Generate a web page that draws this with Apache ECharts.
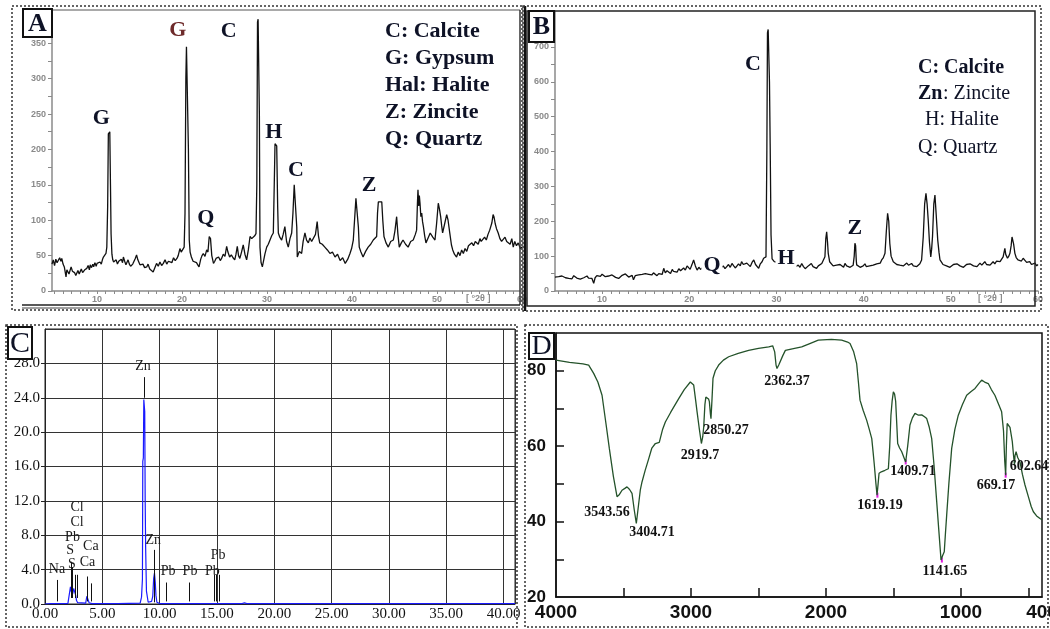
<!DOCTYPE html>
<html>
<head>
<meta charset="utf-8">
<script src="https://cdn.jsdelivr.net/npm/echarts@6/dist/echarts.min.js"></script>
<style>
  html, body { margin: 0; padding: 0; background: #fff; }
  #main { width: 1050px; height: 629px; }
</style>
</head>
<body>
<div id="main"></div>
<script>
// ---- A: XRD pattern 1 (2theta, counts)
var xrdA = [
  [4.7,38],[4.85,44],[5.0,36],[5.15,45],[5.3,40],[5.45,39],[5.6,47],[5.75,42],[5.85,46],[6.0,38],[6.15,34],[6.25,36],[6.35,20],[6.45,30],[6.6,32],[6.7,24],[6.8,25],[6.95,34],[7.1,28],[7.2,30],[7.35,26],[7.5,22],[7.6,23],[7.75,29],[7.9,24],[8.0,27],[8.15,31],[8.3,26],[8.4,25],[8.55,30],[8.7,28],[8.8,32],[8.95,36],[9.1,30],[9.2,37],[9.35,33],[9.5,38],[9.6,34],[9.75,40],[9.9,35],[10.0,39],[10.15,37],[10.35,41],[10.5,38],[10.65,45],[10.75,48],[10.9,46],[11.05,53],[11.15,62],[11.25,120],[11.33,222],[11.42,224],[11.5,225],[11.58,150],[11.65,81],[11.75,52],[11.85,44],[11.95,41],
  [12.1,39],[12.25,44],[12.4,38],[12.55,42],[12.7,41],[12.85,45],[13.0,40],[13.1,48],[13.25,42],[13.4,37],[13.5,39],[13.65,44],[13.8,38],[13.95,35],[14.05,34],[14.2,38],[14.35,42],[14.5,46],[14.65,51],[14.8,44],[14.95,40],[15.05,37],[15.2,35],[15.4,38],[15.6,33],[15.85,34],[16.0,38],[16.2,31],[16.4,29],[16.6,27],[16.8,33],[17.0,39],[17.2,35],[17.4,41],[17.6,36],[17.8,39],[18.0,44],[18.2,38],[18.4,42],[18.6,44],[18.8,40],[19.0,47],[19.2,43],[19.4,46],[19.55,50],[19.75,60],[19.9,55],[20.1,53],[20.25,62],[20.35,110],[20.45,300],[20.52,345],[20.6,347],[20.67,344],[20.75,200],[20.85,72],[20.95,55],
  [21.1,48],[21.3,42],[21.5,44],[21.7,40],[21.85,37],[22.0,34],[22.2,45],[22.35,50],[22.5,53],[22.7,49],[22.9,58],[23.05,55],[23.2,77],[23.35,74],[23.5,50],[23.7,39],[23.85,42],[24.0,46],[24.1,44],[24.3,48],[24.5,43],[24.65,46],[24.85,52],[25.05,49],[25.25,63],[25.4,55],[25.6,48],[25.8,51],[26.0,47],[26.2,44],[26.35,52],[26.5,63],[26.65,50],[26.8,46],[27.0,55],[27.2,65],[27.4,52],[27.6,44],[27.8,58],[28.0,77],[28.2,74],[28.4,72],[28.55,78],[28.7,81],[28.8,150],[28.88,380],[28.95,384],[29.02,383],[29.1,250],[29.17,62],[29.3,40],[29.45,34],[29.56,36],[29.75,52],[29.96,62],
  [30.15,66],[30.35,72],[30.55,78],[30.74,82],[30.85,150],[30.94,208],[31.05,206],[31.14,205],[31.25,120],[31.33,82],[31.5,76],[31.72,72],[31.9,80],[32.1,91],[32.3,70],[32.5,62],[32.7,74],[32.9,82],[33.05,110],[33.2,150],[33.3,149],[33.4,148],[33.5,90],[33.56,48],[33.8,56],[34.07,53],[34.25,70],[34.46,82],[34.65,72],[34.86,68],[35.05,75],[35.25,70],[35.45,72],[35.7,80],[35.9,98],[36.05,78],[36.2,68],[36.5,66],[36.8,62],[37.1,58],[37.4,53],[37.7,55],[38.0,48],[38.3,52],[38.6,43],[38.9,47],[39.2,39],[39.5,45],[39.76,53],[39.95,60],
  [40.15,72],[40.35,110],[40.46,131],[40.56,130],[40.66,129],[40.75,90],[40.85,62],[41.05,55],[41.3,48],[41.6,56],[41.9,62],[42.2,66],[42.5,72],[42.7,70],[42.9,77],[43.0,110],[43.1,126],[43.3,125],[43.5,126],[43.62,100],[43.76,77],[44.0,68],[44.27,62],[44.55,70],[44.86,72],[45.05,85],[45.25,105],[45.4,80],[45.56,62],[45.8,68],[46.0,72],[46.3,66],[46.6,62],[46.9,70],[47.2,72],[47.45,80],[47.6,86],[47.7,125],[47.76,143],[47.85,120],[47.92,135],[48.0,124],[48.1,105],[48.2,110],[48.3,98],[48.4,91],[48.55,78],[48.7,68],[48.95,75],[49.2,82],[49.5,76],[49.76,72],[49.95,95],
  [50.15,124],[50.3,115],[50.43,105],[50.55,92],[50.66,82],[50.9,95],[51.14,108],[51.3,100],[51.5,82],[51.7,65],[51.85,58],[52.05,52],[52.3,48],[52.5,55],[52.7,50],[52.9,58],[53.1,53],[53.3,60],[53.5,56],[53.7,64],[53.9,62],[54.1,68],[54.3,64],[54.5,70],[54.66,72],[54.85,66],[55.05,74],[55.2,70],[55.4,68],[55.6,76],[55.8,72],[56.0,80],[56.2,86],[56.45,96],[56.6,108],[56.7,105],[56.85,95],[57.0,88],[57.2,82],[57.4,74],[57.6,70],[57.8,68],[58.0,76],[58.2,70],[58.4,72],[58.6,66],[58.8,74],[58.97,62],[59.15,70],[59.35,64],[59.56,68],[59.8,60],[60.0,62]
];
var peaksA = [
  ['G', 10.5, 244], ['G', 19.5, 368], ['C', 25.5, 367], ['Q', 22.8, 103],
  ['H', 30.8, 224], ['C', 33.4, 171], ['Z', 42.0, 150]
];
var legendA = ['C: Calcite', 'G: Gypsum', 'Hal: Halite', 'Z: Zincite', 'Q: Quartz'];
var labelsAX = [10, 20, 30, 40, 50, 60];
var labelsAY = [0, 50, 100, 150, 200, 250, 300, 350];

// ---- B: XRD pattern 2 (2theta, counts)
var xrdB = [
  [4.6,40],[4.8,44],[5.02,41],[5.2,36],[5.4,43],[5.6,46],[5.8,38],[6.0,42],[6.17,36],[6.35,40],[6.55,35],[6.75,44],[6.93,41],[7.1,37],[7.3,39],[7.5,34],[7.7,32],[7.9,38],[8.1,41],[8.27,43],[8.45,37],[8.65,40],[8.84,36],[9.04,22],[9.2,38],[9.4,44],[9.61,46],[9.8,42],[10.0,48],[10.2,44],[10.37,41],[10.55,46],[10.75,43],[10.95,40],[11.14,46],[11.35,42],[11.55,39],[11.75,44],[11.9,36],[12.1,41],[12.3,45],[12.5,42],[12.67,49],[12.85,44],[13.05,40],[13.25,38],[13.45,45],[13.6,32],[13.8,44],[14.0,39],[14.2,46],[14.4,42],[14.6,48],[14.8,44],[14.96,50],
  [15.15,45],[15.35,48],[15.55,43],[15.7,46],[15.9,52],[16.1,47],[16.3,44],[16.5,50],[16.7,55],[16.9,48],[17.07,65],[17.25,52],[17.45,58],[17.64,55],[17.85,50],[18.05,62],[18.2,56],[18.4,60],[18.6,54],[18.8,64],[19.0,58],[19.16,55],[19.35,66],[19.55,60],[19.75,72],[19.93,70],[20.1,62],[20.3,75],[20.5,89],[20.7,72],[20.9,60],[21.1,68],[21.3,62],[21.46,65],[21.7,70],[21.9,64],[22.1,72],[22.4,66],[22.7,70],[23.0,68],[23.3,74],[23.6,66],[23.9,72],[24.1,64],[24.3,70],[24.5,76],[24.7,68],[24.9,79],
  [25.1,72],[25.3,66],[25.47,70],[25.65,78],[25.85,72],[26.0,84],[26.2,76],[26.4,72],[26.6,80],[26.8,75],[27.0,70],[27.2,82],[27.4,89],[27.6,76],[27.8,72],[27.96,65],[28.15,78],[28.35,84],[28.53,94],[28.7,92],[28.8,98],[28.9,400],[28.97,740],[29.05,750],[29.13,748],[29.2,600],[29.28,420],[29.38,160],[29.5,92],[29.6,89],[29.75,84],[29.87,79],[30.1,82],[30.4,76],[30.7,80],[31.0,74],[31.3,78],[31.6,72],[31.9,76],[32.2,70],[32.5,74],[32.7,68],[32.9,79],
  [33.1,70],[33.3,64],[33.46,60],[33.65,72],[33.85,76],[34.0,79],[34.2,70],[34.4,74],[34.6,65],[34.8,72],[35.0,76],[35.2,79],[35.4,84],[35.56,98],[35.66,150],[35.76,170],[35.86,140],[35.94,108],[36.1,84],[36.3,79],[36.5,72],[36.7,68],[36.9,74],[37.09,70],[37.3,76],[37.5,72],[37.7,68],[37.86,79],[38.05,72],[38.25,76],[38.45,68],[38.62,70],[38.8,74],[38.92,100],[39.0,137],[39.08,130],[39.15,90],[39.2,75],[39.4,70],[39.6,68],[39.77,65],[39.95,72],
  [40.15,78],[40.3,70],[40.5,75],[40.7,72],[40.9,68],[41.1,74],[41.3,70],[41.5,78],[41.7,82],[41.9,80],[42.07,89],[42.25,95],[42.45,108],[42.6,170],[42.75,223],[42.88,200],[43.0,137],[43.15,100],[43.4,84],[43.6,80],[43.8,76],[43.97,79],[44.15,74],[44.35,78],[44.55,72],[44.74,75],[44.95,80],[45.15,74],[45.35,78],[45.5,79],[45.7,72],[45.9,76],[46.1,70],[46.26,70],[46.45,78],[46.65,89],[46.84,156],[47.0,250],[47.15,280],[47.28,250],[47.41,203],[47.55,140],[47.7,98],[47.8,120],[47.9,156],[48.05,250],[48.18,275],[48.32,220],[48.5,146],[48.65,110],[48.76,89],[48.95,82],[49.1,76],[49.3,79],[49.5,72],[49.7,76],[49.9,68],
  [50.1,70],[50.3,76],[50.5,72],[50.7,78],[50.85,79],[51.05,72],[51.25,76],[51.45,68],[51.6,70],[51.8,76],[52.0,72],[52.2,78],[52.4,79],[52.6,72],[52.8,76],[53.0,70],[53.15,75],[53.35,80],[53.55,74],[53.75,78],[53.9,84],[54.1,76],[54.3,80],[54.5,74],[54.68,79],[54.85,84],[55.05,78],[55.25,86],[55.44,89],[55.65,84],[55.85,92],[56.0,98],[56.1,110],[56.2,122],[56.3,105],[56.5,94],[56.65,100],[56.78,108],[56.92,130],[57.02,155],[57.1,160],[57.2,135],[57.35,108],[57.5,96],[57.7,89],[57.9,92],[58.1,86],[58.3,94],[58.5,88],[58.7,82],[58.88,79],[59.05,84],[59.25,76],[59.45,75],[59.65,80],[59.85,72],[60.0,76]
];
var peaksB = [['C', 27.3, 651], ['Q', 22.6, 75], ['H', 31.1, 95], ['Z', 39.0, 181]];
var labelsBY = [0, 100, 200, 300, 400, 500, 600, 700];

// ---- C: EDS spectrum (keV, counts)
var edsC = [
  [0,0],[0.5,0.05],[0.9,0.05],[1.0,0.2],[1.05,0.15],[1.15,0.05],[2.0,0.08],[2.15,0.3],[2.22,2.0],[2.26,2.2],[2.3,1.4],[2.34,2.9],[2.38,2.0],[2.42,1.2],[2.5,1.8],[2.56,1.6],[2.62,1.8],[2.68,1.0],[2.75,0.4],[2.85,0.15],[3.0,0.05],
  [3.55,0.1],[3.65,0.9],[3.7,1.05],[3.76,0.7],[3.85,0.15],[4.0,0.2],[4.1,0.05],[6.35,0.05],[6.4,0.2],[6.45,0.05],
  [8.3,0.1],[8.42,0.8],[8.5,2.9],[8.53,16.6],[8.58,17.0],[8.62,23.8],[8.66,23.6],[8.7,22.4],[8.74,12],[8.78,6.5],[8.85,1.5],[9.0,0.2],
  [9.3,0.3],[9.4,0.9],[9.48,3.0],[9.55,3.6],[9.62,2.5],[9.68,1.0],[9.76,0.2],[10.0,0.05],[12,0.05],[15,0.05],[17.2,0.05],[17.4,0.15],[17.6,0.05],[41,0.05]
];
// element marker lines: energy, bottom, top
var markersC = [
  [1.04,0.3,2.8],[2.31,0.7,4.9],[2.35,0.7,4.3],[2.62,0.7,3.4],[2.82,0.7,3.4],[3.69,0.3,3.2],[4.01,0.3,2.4],
  [8.63,24.0,26.4],[9.57,0.2,6.3],[10.55,0.3,2.5],[12.61,0.3,2.5],[14.76,0.3,3.4],[14.9,0.3,3.4],[15.2,0.3,3.4]
];
var elementsC = [
  ['Zn',8.55,27.6],['Zn',9.45,7.4],['Cl',2.8,11.3],['Cl',2.8,9.5],['Pb',2.4,7.8],['S',2.2,6.3],['S',2.35,4.65],
  ['Ca',4.0,6.7],['Ca',3.7,4.9],['Na',1.05,4.0],['Pb',10.75,3.8],['Pb',12.65,3.8],['Pb',14.6,3.8],['Pb',15.1,5.7]
];

// ---- D: FTIR spectrum (wavenumber, %T)
var ftirD = [
  [4000,82.8],[3900,82.2],[3800,81.8],[3758,81.5],[3721,79.3],[3690,77],[3659,73.5],[3630,66],[3605,59.4],[3575,52],[3548,46.6],[3530,47.2],[3511,48.3],[3490,48.8],[3474,49.2],[3455,48.5],[3437,47.5],[3420,43],[3405,39.5],[3390,44],[3375,48.5],[3363,50.5],[3340,53.5],[3313,56.7],[3290,59.5],[3264,60.7],[3235,61],[3210,64.5],[3190,66.4],[3150,69],[3091,72.6],[3050,75],[3005,77],[2980,76.2],[2965,72],[2955,69.1],[2940,65],[2923,60.7],[2913,62.5],[2906,65],[2897,71],[2890,73],[2881,73.5],[2870,72.5],[2864,71.8],[2856,68.5],[2852,67.3],[2845,72],[2837,78],[2820,80],[2795,81.5],[2760,82.8],[2721,83.7],[2650,84.6],[2573,85.4],[2500,85.9],[2424,86.3],[2395,86.6],[2380,85],[2370,81.5],[2363,80.6],[2350,81.5],[2338,82],[2320,84],[2301,85.4],[2250,85.8],[2180,86.3],[2120,87.2],[2057,88.1],[1960,88.3],[1884,88.1],[1840,87.6],[1822,87.2],[1795,85],[1773,81.9],[1760,77],[1748,72.2],[1725,69.5],[1699,66.9],[1680,64.5],[1661,62],[1650,58],[1642,55],[1630,50],[1622,47],[1614,50],[1607,52.8],[1590,53.2],[1563,53.6],[1538,54],[1528,60],[1519,68.2],[1510,72],[1501,74.4],[1492,73.8],[1484,71.9],[1476,66],[1469,60.7],[1455,59.5],[1439,58.5],[1425,57.2],[1410,55.8],[1395,60],[1378,65.6],[1360,67.5],[1341,68.7],[1315,68.2],[1291,68.3],[1270,67.8],[1254,67.3],[1235,65],[1217,62],[1200,55],[1180,45.3],[1165,38],[1148,29.8],[1136,31],[1124,32],[1115,37],[1106,41.7],[1090,50],[1069,59.4],[1045,64.5],[1020,68.2],[990,71],[958,73.5],[925,74.5],[896,75.3],[870,76.5],[847,77.5],[825,77],[798,76.6],[775,75],[749,73.5],[720,71],[699,69.1],[685,64],[676,56],[669,52.3],[664,60],[658,66],[652,66.5],[645,65.5],[637,65],[628,63],[620,61.2],[612,58],[604,55],[600,57.5],[592,58.5],[580,57],[563,55.8],[545,52.5],[526,49.7],[500,46.5],[480,44],[464,42.6],[440,41.5],[415,40.8],[400,40.5]
];
var bandsD = [
  ['3543.56',3622,42.5],['3404.71',3289,37],['2919.7',2933,57.6],['2850.27',2741,64.2],['2362.37',2289,77.2],
  ['1619.19',1600,44.4],['1409.71',1356,53.4],['1141.65',1119,26.9],['669.17',741,49.7],['602.64',496,54.7]
];
var pointsD = [[1619.19,47],[1409.71,55.8],[1141.65,29.8],[669.17,52.3]];
var labelsDX = [4000, 3000, 2000, 1000, 400];
var labelsDY = [20, 40, 60, 80];

var chart = echarts.init(document.getElementById('main'), null, { renderer: 'canvas' });

var serif = '"Liberation Serif", "DejaVu Serif", serif';
var sans = '"Liberation Sans", Arial, sans-serif';
var ink = '#0e1226';

function steps(a, b, s) {
  var out = [];
  for (var v = a; v <= b + 1e-9; v += s) out.push(+v.toFixed(3));
  return out;
}

function xrdX(idx, min) {
  return {
    gridIndex: idx, type: 'value', min: min, max: 60,
    axisLine: { lineStyle: { color: '#8a8a8a', width: 1.5 } },
    axisTick: { customValues: steps(5, 60, 1), length: 3, lineStyle: { color: '#8a8a8a' } },
    axisLabel: { customValues: labelsAX, color: '#8a8a8a', fontSize: 9, fontWeight: 'bold', fontFamily: sans, margin: 4 },
    splitLine: { show: false }
  };
}
function xrdY(idx, max, labels, tickStep) {
  return {
    gridIndex: idx, type: 'value', min: 0, max: max,
    axisLine: { show: true, lineStyle: { color: '#8a8a8a', width: 1.5 } },
    axisTick: { show: true, customValues: steps(0, max, tickStep), length: 4, lineStyle: { color: '#8a8a8a' } },
    axisLabel: { customValues: labels, color: '#8a8a8a', fontSize: 9, fontWeight: 'bold', fontFamily: sans, margin: 6 },
    splitLine: { show: false }
  };
}

function labelSeries(xi, items, font, color, extra) {
  return {
    type: 'scatter', xAxisIndex: xi, yAxisIndex: xi, symbolSize: 0, silent: true, z: 5,
    itemStyle: { opacity: 1 },
    data: items.map(function (p) {
      var d = { name: p[0], value: [p[1], p[2]] };
      if (extra && extra[p[0] + '@' + p[1]]) d.label = extra[p[0] + '@' + p[1]];
      return d;
    }),
    label: Object.assign({ show: true, position: 'inside', formatter: '{b}', color: color, opacity: 1 }, font)
  };
}

var option = {
  animation: false,
  backgroundColor: '#fff',
  grid: [
    { left: 52, top: 10, width: 470, height: 281, outerBoundsMode: 'none' },
    { left: 555, top: 11, width: 483, height: 280, outerBoundsMode: 'none' },
    { left: 45, top: 329, width: 470, height: 275, show: true, borderColor: '#222', borderWidth: 1, outerBoundsMode: 'none' },
    { left: 556, top: 333, width: 486, height: 264, show: true, borderColor: '#111', borderWidth: 1.5, outerBoundsMode: 'none' }
  ],
  xAxis: [
    xrdX(0, 4.7),
    xrdX(1, 4.6),
    {
      gridIndex: 2, type: 'value', min: 0, max: 41, interval: 5,
      axisLine: { lineStyle: { color: '#222' } },
      axisTick: { show: false },
      axisLabel: { color: '#111', fontFamily: serif, fontSize: 15, margin: 3, showMaxLabel: false,
        formatter: function (v) { return v.toFixed(2); } },
      splitLine: { show: true, lineStyle: { color: '#333', width: 1 } }
    },
    {
      gridIndex: 3, type: 'value', min: 400, max: 4000, inverse: true,
      axisLine: { lineStyle: { color: '#111', width: 1.5 } },
      axisTick: { inside: true, length: 9, customValues: [3500, 3000, 2500, 2000, 1500, 1000, 500], lineStyle: { color: '#111', width: 1.5 } },
      axisLabel: { customValues: labelsDX, color: '#111', fontFamily: sans, fontWeight: 'bold', fontSize: 19, margin: 6,
        formatter: function (v) { return String(v); } },
      splitLine: { show: false }
    }
  ],
  yAxis: [
    xrdY(0, 397, labelsAY, 25),
    xrdY(1, 803, labelsBY, 50),
    {
      gridIndex: 2, type: 'value', min: 0, max: 32, interval: 4,
      axisLine: { show: true, lineStyle: { color: '#222' } },
      axisTick: { show: true, length: 4, lineStyle: { color: '#222' } },
      axisLabel: { color: '#111', fontFamily: serif, fontSize: 15, margin: 5, showMaxLabel: false,
        formatter: function (v) { return v.toFixed(1); } },
      splitLine: { show: true, lineStyle: { color: '#333', width: 1 } }
    },
    {
      gridIndex: 3, type: 'value', min: 20, max: 90,
      axisLine: { show: true, lineStyle: { color: '#111', width: 1.5 } },
      axisTick: { show: true, inside: true, length: 8, customValues: [30, 40, 50, 60, 70, 80], lineStyle: { color: '#111', width: 1.5 } },
      axisLabel: { customValues: labelsDY, color: '#111', fontFamily: sans, fontWeight: 'bold', fontSize: 17, margin: 10,
        formatter: function (v) { return String(v); } },
      splitLine: { show: false }
    }
  ],
  series: [
    {
      type: 'line', xAxisIndex: 0, yAxisIndex: 0, data: xrdA, showSymbol: false, silent: true,
      lineStyle: { color: '#111', width: 1.3 }
    },
    labelSeries(0, peaksA, { fontFamily: serif, fontWeight: 'bold', fontSize: 22 }, ink,
      { 'G@19.5': { color: '#6e2b2b' } }),
    {
      type: 'line', xAxisIndex: 1, yAxisIndex: 1, data: xrdB, showSymbol: false, silent: true,
      lineStyle: { color: '#111', width: 1.3 }
    },
    labelSeries(1, peaksB, { fontFamily: serif, fontWeight: 'bold', fontSize: 22 }, ink,
      { 'Q@22.6': { backgroundColor: '#fff', padding: [0, 2] }, 'H@31.1': { backgroundColor: '#fff', padding: [0, 2] } }),
    {
      type: 'line', xAxisIndex: 2, yAxisIndex: 2, data: edsC, showSymbol: false, silent: true, z: 4,
      lineStyle: { color: '#1a1aff', width: 1.2 },
      markLine: {
        silent: true, symbol: 'none', animation: false,
        label: { show: false },
        lineStyle: { color: '#111', width: 1, type: 'solid', opacity: 1 },
        data: markersC.map(function (m) { return [{ coord: [m[0], m[1]] }, { coord: [m[0], m[2]] }]; })
      }
    },
    labelSeries(2, elementsC, { fontFamily: serif, fontSize: 14 }, '#1a1a1a'),
    {
      type: 'line', xAxisIndex: 3, yAxisIndex: 3, data: ftirD, showSymbol: false, silent: true,
      lineStyle: { color: '#24522a', width: 1.3 }
    },
    labelSeries(3, bandsD, { fontFamily: serif, fontWeight: 'bold', fontSize: 14 }, '#111'),
    {
      type: 'scatter', xAxisIndex: 3, yAxisIndex: 3, data: pointsD, silent: true,
      symbol: 'rect', symbolSize: [2, 5], itemStyle: { color: '#e21ee2', opacity: 1 }
    }
  ],
  graphic: []
};

var g = option.graphic;
function dotted(x, y, w, h) {
  g.push({ type: 'rect', z: 50, shape: { x: x, y: y, width: w, height: h },
    style: { fill: 'none', stroke: '#333', lineWidth: 1.5, lineDash: [2, 2] } });
}
function letterBox(x, y, w, h, ch, weight, size) {
  g.push({ type: 'rect', z: 60, shape: { x: x, y: y, width: w, height: h },
    style: { fill: '#fff', stroke: '#111', lineWidth: 2 } });
  g.push({ type: 'text', z: 61, x: x + w / 2, y: y + h / 2 + 1,
    style: { text: ch, font: weight + ' ' + size + 'px ' + serif, fill: ink, textAlign: 'center', textVerticalAlign: 'middle' } });
}
function text(x, y, t, font, fill) {
  g.push({ type: 'text', z: 55, x: x, y: y,
    style: { text: t, font: font, fill: fill || ink, textAlign: 'left', textVerticalAlign: 'middle' } });
}
function line(x1, y1, x2, y2, w, c) {
  g.push({ type: 'line', z: 40, shape: { x1: x1, y1: y1, x2: x2, y2: y2 }, style: { stroke: c || '#222', lineWidth: w } });
}

// panel borders
dotted(12, 6, 510, 304);
dotted(523, 6, 518, 305);
dotted(6, 325, 511, 302);
dotted(525, 325, 523, 302);

// inner frames of the XRD panels
line(22, 10, 520, 10, 1, '#555');
line(520, 10, 520, 305, 1.5, '#333');
line(22, 305, 520, 305, 1.5, '#222');
line(22, 308, 520, 308, 1, '#444');
g.push({ type: 'rect', z: 40, shape: { x: 527, y: 11, width: 508, height: 295 },
  style: { fill: 'none', stroke: '#222', lineWidth: 1.5 } });
line(525, 6, 525, 311, 2.5, '#111');

// axis unit tags
text(466, 299, '[ °2θ ]', 'bold 9px ' + sans, '#8a8a8a');
text(978, 299, '[ °2θ ]', 'bold 9px ' + sans, '#8a8a8a');

// legends
var bold22 = 'bold 22px ' + serif;
legendA.forEach(function (s, i) { text(385, 31 + i * 27, s, bold22); });
text(918, 68, 'C: Calcite', 'bold 20px ' + serif);
text(918, 94, 'Zn', 'bold 20px ' + serif);
text(943, 94, ': Zincite', '20px ' + serif);
text(925, 120, 'H: Halite', '20px ' + serif);
text(918, 148, 'Q: Quartz', '20px ' + serif);

// panel letters
letterBox(23, 9, 29, 28, 'A', 'bold', 26);
letterBox(529, 11, 25, 31, 'B', 'bold', 26);
letterBox(8, 327, 24, 32, 'C', 'normal', 30);
letterBox(529, 333, 25, 26, 'D', 'normal', 28);

chart.setOption(option);
</script>
</body>
</html>
